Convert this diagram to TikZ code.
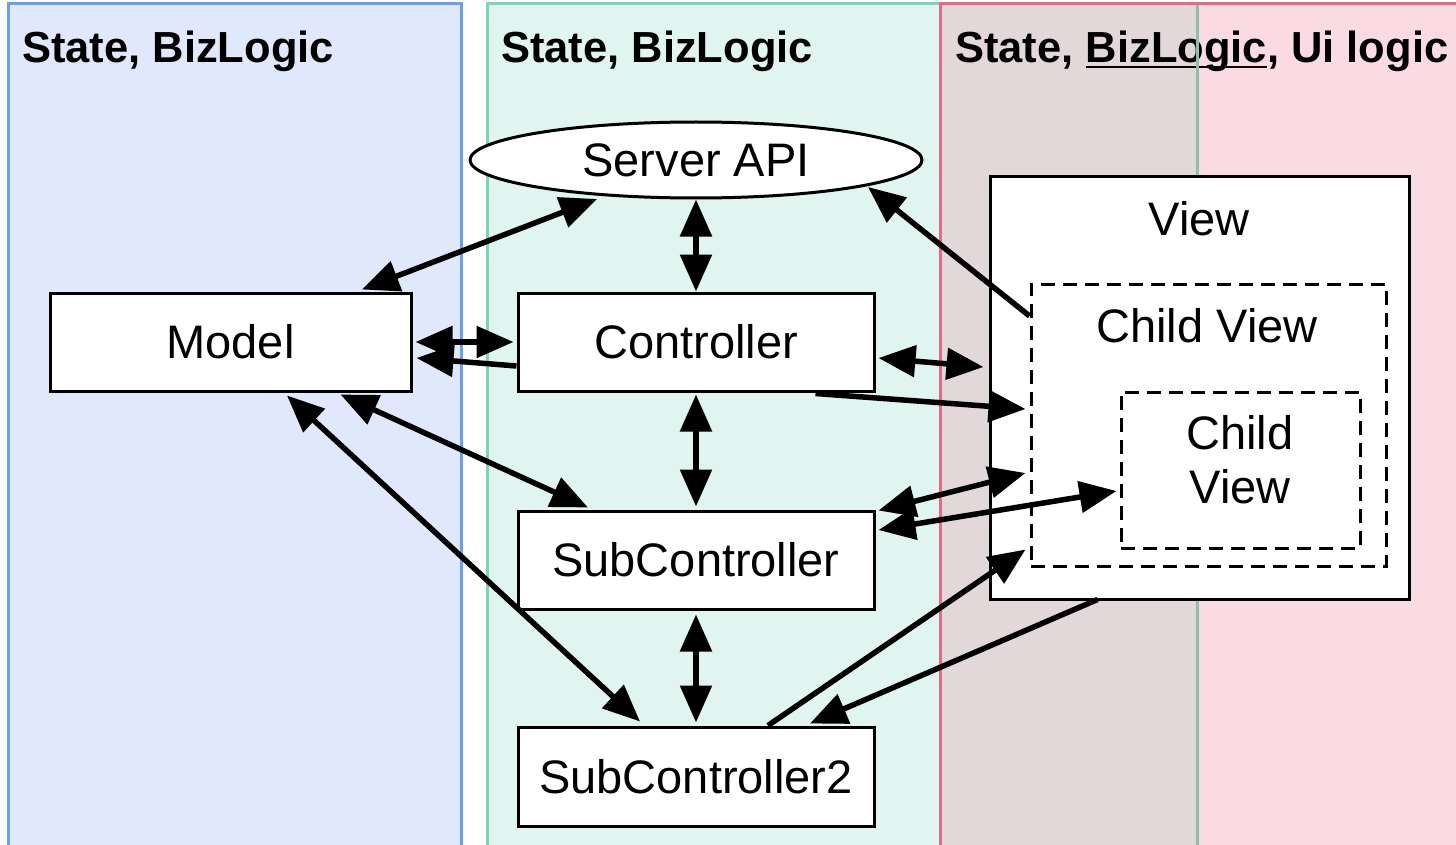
\documentclass[tikz,border=0pt]{standalone}
\usepackage{fontspec}
\setmainfont{Liberation Sans}
\usetikzlibrary{arrows.meta,shapes.geometric,calc}
\definecolor{bluefill}{HTML}{E0E8FB}
\definecolor{blueline}{HTML}{6D9EEB}
\definecolor{greenfill}{HTML}{E0F5F0}
\definecolor{greenline}{HTML}{7AD6B8}
\definecolor{greenmute}{HTML}{8CC0A9}
\definecolor{pinkfill}{HTML}{FADBE3}
\definecolor{pinkline}{HTML}{E8688A}
\definecolor{overlapfill}{HTML}{E2D8DA}
\newlength\ulwd
\newcommand\myul[1]{\settowidth\ulwd{#1}\rlap{\rule[-5pt]{\ulwd}{2.2pt}}#1}
\tikzset{
  hdr/.style={anchor=base west, inner sep=0pt, font=\fontsize{43.5}{50}\selectfont\bfseries},
  box/.style={draw=black, line width=3pt, fill=white, rectangle, inner sep=0pt,
    font=\fontsize{47}{54}\selectfont},
  dbox/.style={draw=black, line width=3pt, fill=white, rectangle, inner sep=0pt,
    dash pattern=on 14pt off 8pt},
  lbl/.style={inner sep=0pt, font=\fontsize{47}{54}\selectfont, align=center},
  arr/.style={line width=5.5pt, -{Triangle[length=37pt,width=31pt]}},
  darr/.style={line width=5.5pt, {Triangle[length=37pt,width=31pt]}-{Triangle[length=37pt,width=31pt]}},
}
\begin{document}
\begin{tikzpicture}[x=1pt,y=-1pt]
\useasboundingbox (0,0) rectangle (1456,845);
% columns
\draw[fill=bluefill, draw=blueline, line width=3pt] (8,4) rectangle (461,860);
\draw[fill=greenfill, draw=greenline, line width=3pt] (487,4) rectangle (1197,860);
\fill[pinkfill] (940,4) rectangle (1470,860);
\fill[overlapfill] (940,4) rectangle (1197,860);
% headers
\node[hdr] (h1) at (22,63) {State, BizLogic};
\node[hdr] (h2) at (501,63) {State, BizLogic};
\node[hdr] (h3) at (955,63) {State, \myul{BizLogic}, Ui logic};
\draw[draw=greenmute, line width=3pt] (1197,5) -- (1197,860);
\draw[draw=pinkline, line width=3pt] (940,860) -- (940,4) -- (1470,4);
% nodes
\node[box, minimum width=361pt, minimum height=98pt] (model) at (230.5,342) {Model};
\node[box, minimum width=356pt, minimum height=98pt] (ctrl) at (696,342) {Controller};
\node[box, minimum width=356pt, minimum height=98pt] (sub) at (696,560) {SubController};
\node[box, minimum width=356pt, minimum height=99pt] (sub2) at (696,776.5) {SubController2};
\node[box, ellipse, minimum width=452pt, minimum height=76pt] (srv) at (696,160) {Server API};
\node[box, minimum width=419pt, minimum height=422pt] (view) at (1199.5,388) {};
\node[lbl] (viewl) at (1199,219) {View};
\node[dbox, minimum width=355pt, minimum height=282pt] (cv) at (1208.5,425) {};
\node[lbl] (cvl) at (1207,326) {Child View};
\node[dbox, minimum width=239pt, minimum height=156pt] (ccv) at (1240.5,470) {};
\node[lbl] (ccvl) at (1240,460) {Child\\View};
% connectors
\draw[darr] ([xshift=131.5pt,yshift=2pt]model.north) -- ([shift={(-99pt,-39pt)}]srv.center);
\draw[darr] (srv.south) -- (ctrl.north);
\draw[darr] ([xshift=3pt]model.east) -- ([xshift=-3pt]ctrl.west);
\draw[arr] ([yshift=-24pt]ctrl.west) -- ([xshift=4pt,yshift=-16pt]model.east);
\draw[arr] ([yshift=109pt]cv.west) -- ([shift={(172pt,-27pt)}]srv.center);
\draw[darr] ([shift={(3pt,-16pt)}]ctrl.east) -- ([shift={(-5pt,21pt)}]view.west);
\draw[arr] ([xshift=-60pt,yshift=-1pt]ctrl.south east) -- ([shift={(-4pt,16pt)}]cv.west);
\draw[darr] ([yshift=-2pt]ctrl.south) -- ([yshift=3pt]sub.north);
\draw[darr] ([shift={(110pt,-2pt)}]model.south) -- ([shift={(-108pt,2pt)}]sub.north);
\draw[darr] ([shift={(56.5pt,-3pt)}]model.south) -- ([shift={(-56pt,4pt)}]sub2.north);
\draw[darr] ([shift={(3pt,-1pt)}]sub.north east) -- ([shift={(-4pt,-48pt)}]cv.west);
\draw[darr] ([shift={(3pt,30pt)}]sub.east) -- ([shift={(-3pt,-21pt)}]ccv.west);
\draw[arr] ([xshift=72pt]sub2.north) -- ([shift={(-4pt,18pt)}]cv.south west);
\draw[arr] ([shift={(-102pt,1pt)}]view.south) -- ([shift={(114pt,2pt)}]sub2.north);
\draw[darr] ([yshift=-4pt]sub.south) -- ([yshift=3pt]sub2.north);
\end{tikzpicture}
\end{document}
